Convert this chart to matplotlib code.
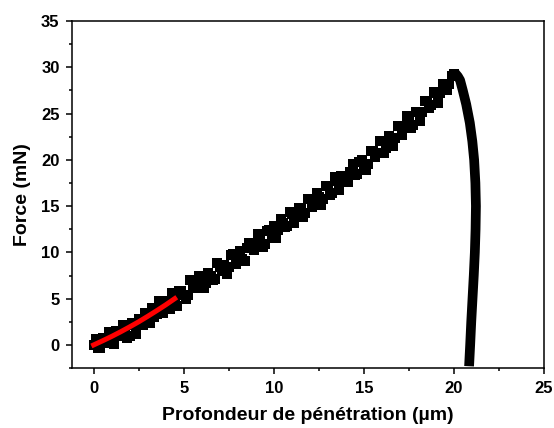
"""
Courbe force / profondeur de pénétration (indentation).
"""

import matplotlib
matplotlib.use('Agg')
import matplotlib.pyplot as plt
from matplotlib.ticker import MultipleLocator

# loading branch (noisy band), two interleaved runs
load_depth = [0.0, 0.25, 0.5, 0.75, 1.0, 1.25, 1.5, 1.75, 2.0, 2.25,
              2.5, 2.75, 3.0, 3.25, 3.5, 3.75, 4.0, 4.25, 4.5, 4.75,
              5.0, 5.25, 5.5, 5.75, 6.0, 6.25, 6.5, 6.75, 7.0, 7.25,
              7.5, 7.75, 8.0, 8.25, 8.5, 8.75, 9.0, 9.25, 9.5, 9.75,
              10.0, 10.25, 10.5, 10.75, 11.0, 11.25, 11.5, 11.75, 12.0, 12.25,
              12.5, 12.75, 13.0, 13.25, 13.5, 13.75, 14.0, 14.25, 14.5, 14.75,
              15.0, 15.25, 15.5, 15.75, 16.0, 16.25, 16.5, 16.75, 17.0, 17.25,
              17.5, 17.75, 18.0, 18.25, 18.5, 18.75, 19.0, 19.25, 19.5, 19.75,
              20.0]
load_force = [0.0, -0.3, 0.8, 0.7, 0.4, 1.5, 1.0, 1.5, 1.0, 2.2,
              2.8, 2.2, 2.9, 4.0, 3.3, 3.9, 4.7, 3.9, 5.2, 5.8,
              5.4, 5.4, 6.5, 6.5, 7.4, 6.7, 7.5, 7.1, 8.4, 8.6,
              8.4, 9.8, 9.3, 9.3, 10.5, 11.0, 10.7, 11.3, 10.9, 12.4,
              12.9, 12.4, 13.2, 12.8, 14.2, 14.0, 14.7, 14.3, 15.8, 15.3,
              16.0, 15.8, 17.2, 16.4, 17.7, 18.2, 17.8, 18.7, 18.4, 19.8,
              19.6, 19.6, 20.9, 20.7, 22.0, 21.3, 22.4, 22.4, 23.6, 23.5,
              24.6, 23.8, 25.2, 25.2, 26.4, 25.9, 27.2, 27.2, 28.2, 28.2,
              29.3]

load_depth_b = [0.125, 0.375, 0.625, 0.875, 1.125, 1.375, 1.625, 1.875,
                2.125, 2.375, 2.625, 2.875, 3.125, 3.375, 3.625, 3.875,
                4.125, 4.375, 4.625, 4.875, 5.125, 5.375, 5.625, 5.875,
                6.125, 6.375, 6.625, 6.875, 7.125, 7.375, 7.625, 7.875,
                8.125, 8.375, 8.625, 8.875, 9.125, 9.375, 9.625, 9.875,
                10.125, 10.375, 10.625, 10.875, 11.125, 11.375, 11.625, 11.875,
                12.125, 12.375, 12.625, 12.875, 13.125, 13.375, 13.625, 13.875,
                14.125, 14.375, 14.625, 14.875, 15.125, 15.375, 15.625, 15.875,
                16.125, 16.375, 16.625, 16.875, 17.125, 17.375, 17.625, 17.875,
                18.125, 18.375, 18.625, 18.875, 19.125, 19.375, 19.625, 19.875]
load_force_b = [0.6, -0.3, 0.2, 1.4, 0.1, 1.3, 2.2, 0.7,
                2.4, 1.2, 2.4, 3.5, 2.4, 3.0, 4.7, 3.5,
                4.7, 5.6, 4.2, 5.8, 5.0, 7.0, 6.1, 7.4,
                6.1, 7.8, 7.0, 8.8, 8.0, 7.7, 9.7, 8.7,
                10.2, 9.1, 11.0, 10.3, 12.0, 10.6, 12.3, 11.5,
                11.6, 13.6, 12.7, 14.4, 13.2, 14.8, 13.8, 15.8,
                14.9, 16.4, 15.1, 17.2, 16.2, 18.1, 16.7, 18.3,
                17.6, 19.6, 18.5, 20.0, 18.9, 21.0, 20.3, 22.0,
                20.7, 22.6, 21.5, 23.6, 22.7, 24.7, 23.4, 25.2,
                24.2, 26.4, 25.6, 27.3, 26.1, 28.2, 27.5, 29.1]

# unloading branch
unload_depth = [20.05, 20.22, 20.34, 20.49, 20.68, 20.88, 21.02, 21.12, 21.19,
                21.22, 21.20, 21.16, 21.10, 21.03, 20.96, 20.90, 20.84]
unload_force = [29.4, 29.0, 28.6, 27.5, 26.0, 24.0, 22.0, 20.0, 17.5,
                15.0, 12.5, 10.0, 7.5, 5.0, 2.5, 0.0, -2.3]

# fitted curve (red)
fit_depth = [0.0, 0.5, 1.0, 1.5, 2.0, 2.5, 3.0, 3.5, 4.0, 4.5]
fit_force = [0.0, 0.45, 0.92, 1.42, 1.95, 2.50, 3.09, 3.70, 4.33, 5.0]

x_ticks = [0, 5, 10, 15, 20, 25]
y_ticks = [0, 5, 10, 15, 20, 25, 30, 35]


def main():
    plt.rcParams['font.family'] = ['Liberation Sans', 'DejaVu Sans']
    plt.rcParams['font.weight'] = 'bold'

    fig = plt.figure(figsize=(5.54, 4.28), dpi=100)
    ax = fig.add_axes([0.130, 0.140, 0.852, 0.811])

    for xs, ys in [(load_depth, load_force), (load_depth_b, load_force_b)]:
        ax.plot(xs, ys, 's', color='black', markersize=7.2,
                markeredgewidth=0)
    ax.plot(unload_depth, unload_force, '-', color='black', linewidth=7,
            solid_capstyle='butt')
    ax.plot(fit_depth, fit_force, '-', color='red', linewidth=3.6)

    ax.set_xlim(-1.2, 25)
    ax.set_ylim(-2.5, 35)
    ax.set_xticks(x_ticks)
    ax.set_yticks(y_ticks)
    ax.xaxis.set_minor_locator(MultipleLocator(2.5))
    ax.yaxis.set_minor_locator(MultipleLocator(2.5))
    ax.tick_params(which='major', direction='out', length=4, width=1.1,
                   labelsize=12, pad=5)
    ax.tick_params(which='minor', direction='out', length=2.5, width=1.1)
    for s in ax.spines.values():
        s.set_linewidth(1.1)

    ax.set_xlabel('Profondeur de pénétration (µm)', fontsize=14,
                  fontweight='bold', labelpad=8)
    ax.set_ylabel('Force (mN)', fontsize=14, fontweight='bold', labelpad=7)

    fig.savefig('out.png', dpi=100)


if __name__ == '__main__':
    main()
